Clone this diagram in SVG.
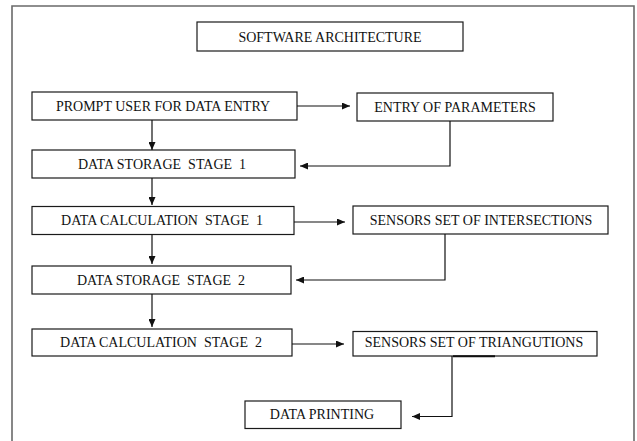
<svg xmlns="http://www.w3.org/2000/svg" width="637" height="441" viewBox="0 0 637 441">
  <style>
    .box { fill: #ffffff; stroke: #1a1a1a; stroke-width: 1.2; }
    .lbl { font-family: "Liberation Serif", "Times New Roman", serif; font-size: 14px; fill: #111111; text-anchor: middle; white-space: pre; }
    .wire { fill: none; stroke: #111111; stroke-width: 1.2; }
    .frame { fill: none; stroke: #6a6a6a; stroke-width: 1.6; }
  </style>
  <defs>
    <marker id="arrow" viewBox="0 0 8 7" refX="8" refY="3.5" markerWidth="8" markerHeight="7" markerUnits="userSpaceOnUse" orient="auto">
      <path d="M0,0 L8,3.5 L0,7 z" fill="#111111"/>
    </marker>
  </defs>

  <rect width="637" height="441" fill="#ffffff"/>
  <!-- page frame, open at the bottom -->
  <path class="frame" d="M12,441 V6 H634 V441"/>

  <g id="title">
    <rect class="box" x="197" y="22" width="266" height="29"/>
    <text class="lbl" x="330" y="41.5">SOFTWARE ARCHITECTURE</text>
  </g>

  <g id="prompt">
    <rect class="box" x="32" y="92" width="265" height="28"/>
    <text class="lbl" x="163" y="111">PROMPT USER FOR DATA ENTRY</text>
  </g>

  <g id="entry">
    <rect class="box" x="357" y="93" width="196" height="28"/>
    <text class="lbl" x="455" y="111.7">ENTRY OF PARAMETERS</text>
  </g>

  <g id="storage1">
    <rect class="box" x="32" y="150" width="263" height="28"/>
    <text class="lbl" x="162" y="169">DATA STORAGE  STAGE  1</text>
  </g>

  <g id="calc1">
    <rect class="box" x="32" y="206.5" width="262" height="28"/>
    <text class="lbl" x="162" y="225.3">DATA CALCULATION  STAGE  1</text>
  </g>

  <g id="intersections">
    <rect class="box" x="353" y="206" width="255" height="28"/>
    <text class="lbl" x="481" y="225">SENSORS SET OF INTERSECTIONS</text>
  </g>

  <g id="storage2">
    <rect class="box" x="32" y="266" width="259" height="28"/>
    <text class="lbl" x="161" y="285">DATA STORAGE  STAGE  2</text>
  </g>

  <g id="calc2">
    <rect class="box" x="32" y="329" width="260" height="27"/>
    <text class="lbl" x="161" y="346.7">DATA CALCULATION  STAGE  2</text>
  </g>

  <g id="triangulations">
    <rect class="box" x="353" y="331.5" width="244" height="24.5"/>
    <text class="lbl" x="474" y="347.3">SENSORS SET OF TRIANGUTIONS</text>
  </g>

  <g id="printing">
    <rect class="box" x="245" y="401" width="156" height="27.5"/>
    <text class="lbl" x="322" y="419.3">DATA PRINTING</text>
  </g>

  <g id="connectors">
    <line class="wire" x1="152" y1="120" x2="152" y2="150" marker-end="url(#arrow)"/>
    <line class="wire" x1="297" y1="106" x2="350" y2="106" marker-end="url(#arrow)"/>
    <path class="wire" d="M450,121 V166 H300" marker-end="url(#arrow)"/>
    <line class="wire" x1="152" y1="178" x2="152" y2="205" marker-end="url(#arrow)"/>
    <line class="wire" x1="294" y1="222" x2="345" y2="222" marker-end="url(#arrow)"/>
    <path class="wire" d="M445,234 V280 H296" marker-end="url(#arrow)"/>
    <line class="wire" x1="152" y1="234.5" x2="152" y2="264" marker-end="url(#arrow)"/>
    <line class="wire" x1="152" y1="294" x2="152" y2="327" marker-end="url(#arrow)"/>
    <line class="wire" x1="292" y1="344" x2="344" y2="344" marker-end="url(#arrow)"/>
    <path class="wire" d="M452,356 V416.5 H412" marker-end="url(#arrow)"/>
    <line x1="453" y1="356.3" x2="495" y2="356.3" stroke="#111111" stroke-width="2"/>
  </g>
</svg>
